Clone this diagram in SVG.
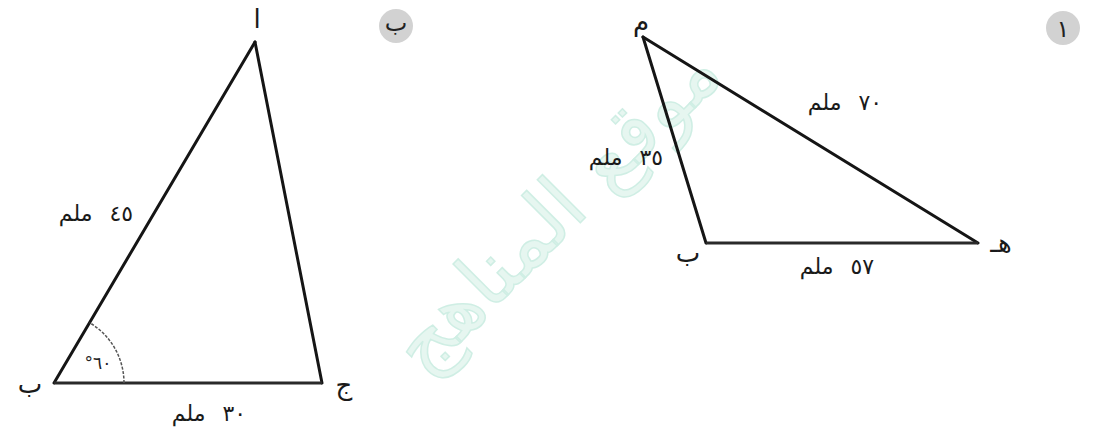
<svg xmlns="http://www.w3.org/2000/svg" width="1093" height="435" viewBox="0 0 1093 435">
  <style>
    .side { stroke: #151515; stroke-width: 3; fill: none; stroke-linecap: round; }
    .base { stroke: #2a2a2a; stroke-width: 3; fill: none; }
    .lbl { font-family: "DejaVu Sans", sans-serif; font-size: 22px; fill: #1a1a1a; text-anchor: middle; word-spacing: 10px; }
    .vtx { font-family: "DejaVu Sans", sans-serif; font-size: 26px; fill: #1a1a1a; text-anchor: middle; }
    .badge { fill: #d2d2d2; }
    .badge-t { font-family: "DejaVu Sans", sans-serif; font-size: 24px; fill: #222; text-anchor: middle; }
    .wm { font-family: "DejaVu Sans", sans-serif; font-size: 80px; fill: #e6f6f0; stroke: #cfeee4; stroke-width: 1.5; }
  </style>
  <rect width="1093" height="435" fill="#ffffff"/>

  <g id="watermark">
    <text class="wm" transform="translate(575,228) rotate(-45)" text-anchor="middle">موقع المناهج</text>
  </g>

  <g id="connectors">
    <line class="side" x1="255" y1="42" x2="54" y2="383"/>
    <line class="side" x1="255" y1="42" x2="322" y2="383"/>
    <line class="base" x1="54" y1="383" x2="322" y2="383"/>
    <line class="side" x1="643" y1="37" x2="706" y2="243"/>
    <line class="side" x1="643" y1="37" x2="978" y2="243"/>
    <line class="base" x1="706" y1="243" x2="978" y2="243"/>
  </g>

  <g id="badge-b">
    <circle class="badge" cx="396" cy="26" r="17"/>
    <text class="badge-t" x="396" y="31">ب</text>
  </g>
  <g id="badge-a">
    <circle class="badge" cx="1063" cy="28" r="17"/>
    <text class="badge-t" x="1063" y="37">١</text>
  </g>

  <g id="triangle-b">
    <text class="vtx" x="257" y="28">ا</text>
    <text class="vtx" x="30" y="393">ب</text>
    <text class="vtx" x="344" y="394">ج</text>
    <text class="lbl" x="96" y="221">٤٥ ملم</text>
    <text class="lbl" x="209" y="421">٣٠ ملم</text>
    <path d="M124,383 A70,70 0 0 0 89.6,322.7" fill="none" stroke="#555" stroke-width="1.5" stroke-dasharray="3 1.5"/>
    <text x="98" y="369" font-family="DejaVu Sans, sans-serif" font-size="17" fill="#222" text-anchor="middle" direction="ltr" letter-spacing="5">°٦٠</text>
  </g>

  <g id="triangle-a">
    <text class="vtx" x="641" y="31">م</text>
    <text class="vtx" x="688" y="262">ب</text>
    <text class="vtx" x="1001" y="252">هـ</text>
    <text class="lbl" x="626" y="165">٣٥ ملم</text>
    <text class="lbl" x="845" y="110">٧٠ ملم</text>
    <text class="lbl" x="837" y="274">٥٧ ملم</text>
  </g>
</svg>
